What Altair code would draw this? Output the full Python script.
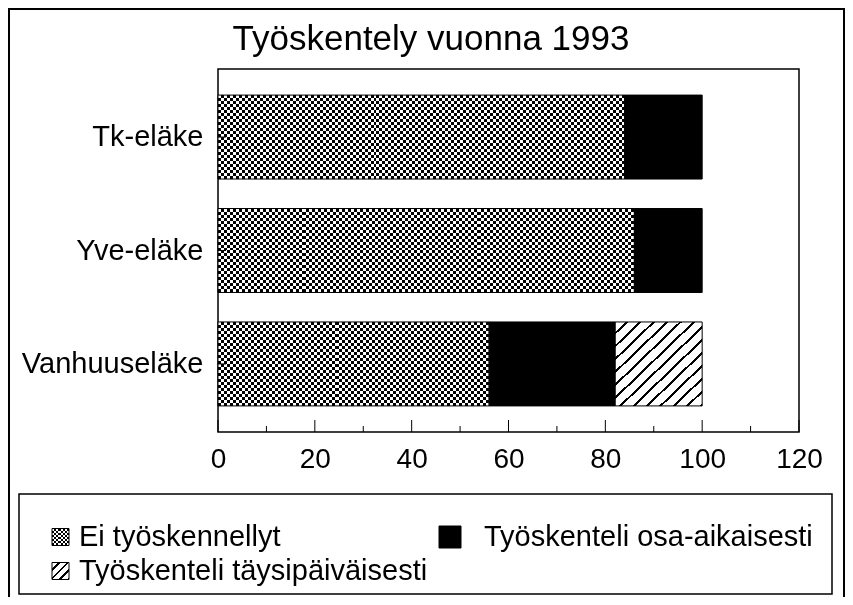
import altair as alt
import pandas as pd

# ---------------- data ----------------
title_text = "Työskentely vuonna 1993"
pensions = ["Tk-eläke", "Yve-eläke", "Vanhuuseläke"]
statuses = ["Ei työskennellyt", "Työskenteli osa-aikaisesti", "Työskenteli täysipäiväisesti"]
ei_values = [84, 86, 56]
osa_values = [16, 14, 26]
taysi_values = [0, 0, 18]
x_major_ticks = [0, 20, 40, 60, 80, 100, 120]
x_minor_ticks = [10, 30, 50, 70, 90, 110]

rows = []
for i, p in enumerate(pensions):
    for j, (s, vals) in enumerate(zip(statuses, [ei_values, osa_values, taysi_values])):
        rows.append({"pension": p, "status": s, "order": j, "value": vals[i]})
df = pd.DataFrame(rows)

# ---------------- layout ----------------
FONT = "Liberation Sans"
W, H = 581, 363
PAD_L, PAD_T = 210, 61
SVG_W, SVG_H = 837, 589
PXU = W / 120.0


def stripes(n, c1, c2, x2, y2, frac=0.5):
    stops = []
    for k in range(n):
        a = k / n
        b = (k + frac) / n
        c = (k + 1) / n
        stops += [
            {"offset": a, "color": c1},
            {"offset": b, "color": c1},
            {"offset": b, "color": c2},
            {"offset": c, "color": c2},
        ]
    return {"gradient": "linear", "x1": 0, "y1": 0, "x2": x2, "y2": y2, "stops": stops}


xscale = alt.Scale(domain=[0, 120], nice=False, zero=True)
yscale = alt.Scale(domain=pensions, paddingInner=0.26, paddingOuter=0.23)

XAXIS = alt.Axis(values=x_major_ticks, ticks=False, tickSize=0, domain=False, grid=False,
                 labelFontSize=28, labelPadding=13, labelFont=FONT, labelColor="black",
                 title=None, labelFlush=False, labelOverlap=False)
YAXIS = alt.Axis(ticks=False, tickSize=0, domain=False, grid=False,
                 labelFontSize=29, labelPadding=15, labelFont=FONT, labelColor="black",
                 title=None, labelLimit=300)

base = alt.Chart(df).transform_stack(
    stack="value", groupby=["pension"], as_=["x0", "x1"],
    sort=[alt.SortField("order", order="ascending")],
)


def enc(chart):
    return chart.encode(
        x=alt.X("x0:Q", scale=xscale, axis=XAXIS),
        x2="x1:Q",
        y=alt.Y("pension:N", sort=pensions, scale=yscale, axis=YAXIS),
    )


bar_h = H / (3 - 0.26 + 2 * 0.23) * 0.74
layers = []
# checkerboard "Ei työskennellyt" segments (XOR of two stripe layers)
for i, p in enumerate(pensions):
    nx = max(1, round(ei_values[i] * PXU / 6))
    ny = max(1, round(bar_h / 6))
    filt = (alt.datum.pension == p) & (alt.datum.status == statuses[0])
    layers.append(enc(base.transform_filter(filt).mark_bar(
        fill=stripes(nx, "#000000", "#ffffff", 1, 0), strokeWidth=0)))
    layers.append(enc(base.transform_filter(filt).mark_bar(
        fill=stripes(ny, "#ffffff", "#000000", 0, 1), strokeWidth=0, blend="difference")))

# black part-time segments
layers.append(enc(base.transform_filter(alt.datum.status == statuses[1]).mark_bar(
    fill="#000000", strokeWidth=0)))
# hatched full-time segments
layers.append(enc(base.transform_filter((alt.datum.status == statuses[2]) & (alt.datum.value > 0)).mark_bar(
    fill=stripes(13, "#ffffff", "#000000", 1, 1, frac=0.78), strokeWidth=0)))
# outlines
layers.append(enc(base.transform_filter(alt.datum.value > 0).mark_bar(
    fillOpacity=0, stroke="#000000", strokeWidth=1)))

# inward x ticks
major_df = pd.DataFrame({"t": x_major_ticks})
minor_df = pd.DataFrame({"t": x_minor_ticks})
layers.append(alt.Chart(major_df).mark_rule(color="black", strokeWidth=1).encode(
    x=alt.X("t:Q", scale=xscale, axis=XAXIS), y=alt.value(H), y2=alt.value(H - 12)))
layers.append(alt.Chart(minor_df).mark_rule(color="black", strokeWidth=1).encode(
    x=alt.X("t:Q", scale=xscale, axis=XAXIS), y=alt.value(H), y2=alt.value(H - 6)))
# inward y ticks
ytick_df = pd.DataFrame({"pension": pensions})
layers.append(alt.Chart(ytick_df).mark_rule(color="black", strokeWidth=1).encode(
    y=alt.Y("pension:N", sort=pensions, scale=yscale, axis=YAXIS),
    x=alt.value(0), x2=alt.value(8)))

one = pd.DataFrame({"a": [0]})


def rel_x(page_x):
    return page_x - 8 - PAD_L


def rel_y(page_y):
    return page_y - 8 - PAD_T


# title
layers.append(alt.Chart(pd.DataFrame({"t": [title_text]})).mark_text(
    font=FONT, fontSize=35, color="black", align="center", baseline="alphabetic").encode(
    text="t:N", x=alt.value(rel_x(431)), y=alt.value(rel_y(50))))

# outer frame (top, left, right edges)
layers.append(alt.Chart(one).mark_rule(color="black", strokeWidth=2).encode(
    x=alt.value(rel_x(9)), x2=alt.value(rel_x(845)), y=alt.value(rel_y(9))))
layers.append(alt.Chart(one).mark_rule(color="black", strokeWidth=2).encode(
    x=alt.value(rel_x(9)), y=alt.value(rel_y(8)), y2=alt.value(rel_y(597))))
layers.append(alt.Chart(one).mark_rule(color="black", strokeWidth=2).encode(
    x=alt.value(rel_x(844)), y=alt.value(rel_y(8)), y2=alt.value(rel_y(597))))

# legend box
layers.append(alt.Chart(one).mark_rect(fillOpacity=0, stroke="black", strokeWidth=1.5).encode(
    x=alt.value(rel_x(19)), x2=alt.value(rel_x(832)), y=alt.value(rel_y(494)), y2=alt.value(rel_y(594))))

row1, row2 = 537, 571
col1_sym, col1_txt = 52, 79
col2_sym, col2_txt = 439, 484
sym = 17
bsym = 22

# legend symbols
# checker
layers.append(alt.Chart(one).mark_rect(fill=stripes(4, "#000000", "#ffffff", 1, 0), strokeWidth=0).encode(
    x=alt.value(rel_x(col1_sym)), x2=alt.value(rel_x(col1_sym + sym)),
    y=alt.value(rel_y(row1 - sym / 2)), y2=alt.value(rel_y(row1 + sym / 2))))
layers.append(alt.Chart(one).mark_rect(fill=stripes(4, "#ffffff", "#000000", 0, 1), strokeWidth=0,
                                        blend="difference").encode(
    x=alt.value(rel_x(col1_sym)), x2=alt.value(rel_x(col1_sym + sym)),
    y=alt.value(rel_y(row1 - sym / 2)), y2=alt.value(rel_y(row1 + sym / 2))))
layers.append(alt.Chart(one).mark_rect(fillOpacity=0, stroke="black", strokeWidth=1).encode(
    x=alt.value(rel_x(col1_sym)), x2=alt.value(rel_x(col1_sym + sym)),
    y=alt.value(rel_y(row1 - sym / 2)), y2=alt.value(rel_y(row1 + sym / 2))))
# hatch
layers.append(alt.Chart(one).mark_rect(fill=stripes(4, "#ffffff", "#000000", 1, 1, frac=0.72),
                                        stroke="black", strokeWidth=1).encode(
    x=alt.value(rel_x(col1_sym)), x2=alt.value(rel_x(col1_sym + sym)),
    y=alt.value(rel_y(row2 - sym / 2)), y2=alt.value(rel_y(row2 + sym / 2))))
# black
layers.append(alt.Chart(one).mark_rect(fill="#000000", stroke="black", strokeWidth=1).encode(
    x=alt.value(rel_x(col2_sym)), x2=alt.value(rel_x(col2_sym + bsym)),
    y=alt.value(rel_y(row1 - bsym / 2)), y2=alt.value(rel_y(row1 + bsym / 2))))

# legend labels
for label, cx, cy in [(statuses[0], col1_txt, row1), (statuses[1], col2_txt, row1), (statuses[2], col1_txt, row2)]:
    layers.append(alt.Chart(one).mark_text(
        font=FONT, fontSize=29, color="black", align="left", baseline="middle").encode(
        text=alt.value(label), x=alt.value(rel_x(cx)), y=alt.value(rel_y(cy))))

chart = alt.layer(*layers).properties(
    width=W, height=H,
    autosize=alt.AutoSizeParams(type="none"),
    padding={"left": PAD_L, "top": PAD_T, "right": SVG_W - PAD_L - W, "bottom": SVG_H - PAD_T - H},
    background="white",
).configure_view(stroke="black", strokeWidth=1.5)

chart.save("out.html", embed_options={"renderer": "svg", "actions": False})
